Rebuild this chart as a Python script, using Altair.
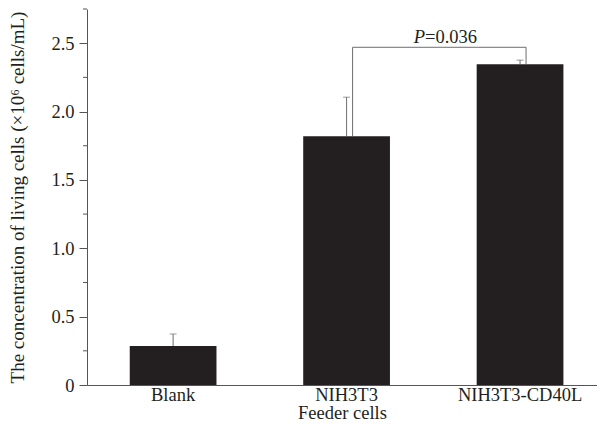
import altair as alt
import pandas as pd

categories = ["Blank", "NIH3T3", "NIH3T3-CD40L"]
means = [0.285, 1.82, 2.345]
upper = [0.373, 2.105, 2.376]
bracket_cats = ["NIH3T3", "NIH3T3-CD40L"]
bracket_y = [2.47]
p_label_y = [2.5]
y_ticks = [0, 0.5, 1.0, 1.5, 2.0, 2.5]
minor_ticks = [0.25, 0.75, 1.25, 1.75, 2.25, 2.75]

df = pd.DataFrame({"cat": categories, "mean": means, "upper": upper})
legs = df[df["cat"].isin(bracket_cats)].assign(top=bracket_y[0])
hline = pd.DataFrame({"cat": [bracket_cats[0]], "b": [bracket_cats[1]], "y": bracket_y})
plab = pd.DataFrame({"cat": [bracket_cats[1]], "y": p_label_y})
minor = pd.DataFrame({"v": minor_ticks})

FONT = "Liberation Serif"
INK = "#231f20"
AX = "#555555"
ERR = "#6d6e71"
XT = "Feeder cells"
YT = "The concentration of living cells (×10⁶ cells/mL)"

# band step ~173.5px with bars half a step wide
xscale = alt.Scale(domain=categories, paddingInner=0.5, paddingOuter=0.22, align=0.56)
yscale = alt.Scale(domain=[0, 2.75], nice=False, zero=True)

x_axis = alt.Axis(
    labelAngle=0, ticks=False, labelPadding=0, titlePadding=0,
    labelFontSize=18.5, titleFontSize=18.5, domainColor=AX,
)
y_axis = alt.Axis(
    values=y_ticks,
    labelExpr="datum.value == 0 ? '0' : format(datum.value, '.1f')",
    tickSize=8, tickColor=AX, domainColor=AX, labelPadding=5, titlePadding=23,
    grid=False, labelFontSize=18.5, titleFontSize=19,
)


def X(field="cat"):
    return alt.X(f"{field}:N", scale=xscale, sort=categories, title=XT)


def Y(field):
    return alt.Y(f"{field}:Q", scale=yscale, title=YT)


bars = alt.Chart(df).mark_bar(color=INK).encode(
    x=alt.X("cat:N", scale=xscale, sort=categories, title=XT, axis=x_axis),
    y=alt.Y("mean:Q", scale=yscale, title=YT, axis=y_axis),
)

err = alt.Chart(df).mark_rule(color=ERR, strokeWidth=1).encode(
    x=X(), y=Y("mean"), y2="upper:Q"
)
caps = alt.Chart(df).mark_tick(color=ERR, size=7, thickness=1, orient="horizontal").encode(
    x=X(), y=Y("upper")
)

minor_rules = alt.Chart(minor).mark_rule(color=AX, strokeWidth=1).encode(
    y=Y("v"), x=alt.value(-4), x2=alt.value(0)
)

br_h = alt.Chart(hline).mark_rule(color=ERR, strokeWidth=1, xOffset=6, x2Offset=6).encode(
    x=X(), x2="b:N", y=Y("y")
)
br_legs = alt.Chart(legs).mark_rule(color=ERR, strokeWidth=1, xOffset=6).encode(
    x=X(), y=Y("top"), y2="mean:Q"
)

p_txt = alt.Chart(plab).mark_text(
    text="P", fontStyle="italic", fontSize=18.5, align="right",
    baseline="alphabetic", xOffset=-95, color=INK, font=FONT,
).encode(x=X(), y=Y("y"))
v_txt = alt.Chart(plab).mark_text(
    text="=0.036", fontSize=18.5, align="left",
    baseline="alphabetic", xOffset=-95, color=INK, font=FONT,
).encode(x=X(), y=Y("y"))

chart = (
    alt.layer(bars, err, caps, minor_rules, br_h, br_legs, p_txt, v_txt)
    .properties(width=510, height=376, padding={"left": 0, "top": 0, "right": 0, "bottom": 0})
    .configure_view(stroke=None)
    .configure_axis(
        labelFont=FONT, titleFont=FONT, labelColor=INK, titleColor=INK,
        titleFontWeight="normal",
    )
)

chart.save("out.html", embed_options={"renderer": "svg", "actions": False})
